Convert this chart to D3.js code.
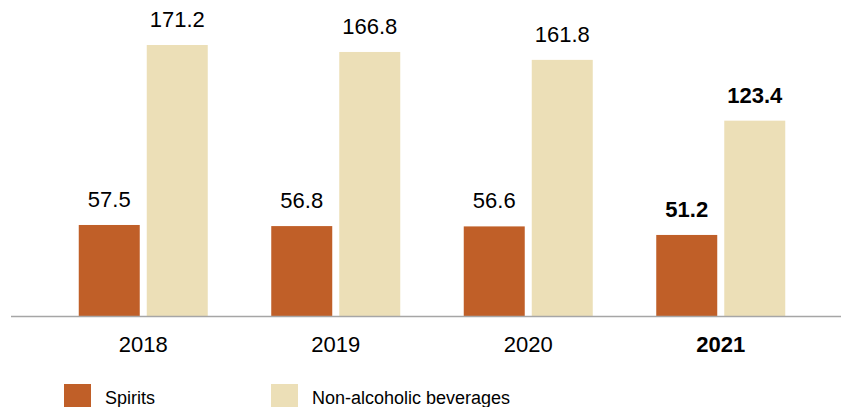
<!DOCTYPE html>
<html>
<head>
<meta charset="utf-8">
<script src="https://cdn.jsdelivr.net/npm/d3@7"></script>
<style>
  body { margin: 0; background: #fff; }
  svg { display: block; font-family: "Liberation Sans", Arial, sans-serif; }
</style>
</head>
<body>
<div id="chart"></div>
<script>
// chart data
const years = ["2018", "2019", "2020", "2021"];
const spirits = [57.5, 56.8, 56.6, 51.2];
const nonAlcoholic = [171.2, 166.8, 161.8, 123.4];
const seriesNames = ["Spirits", "Non-alcoholic beverages"];
const boldYear = "2021";

const width = 841, height = 407;
const baseline = 316;

const svg = d3.select("#chart").append("svg")
  .attr("width", width)
  .attr("height", height);

const colors = ["#c05f28", "#ecdfb7"];

const xScale = d3.scaleBand()
  .domain(years)
  .range([47, 817]);

const inner = d3.scaleBand()
  .domain([0, 1])
  .range([xScale.bandwidth() / 2 - 64.5, xScale.bandwidth() / 2 + 64.5])
  .paddingInner(0.103);

const yScale = d3.scaleLinear()
  .domain([0, 171.2])
  .range([baseline, 45]);

const rows = years.map((y, i) => ({ year: y, values: [spirits[i], nonAlcoholic[i]] }));

const groups = svg.selectAll(".group")
  .data(rows)
  .join("g")
  .attr("class", "group")
  .attr("transform", d => `translate(${xScale(d.year)},0)`);

groups.selectAll("rect")
  .data(d => d.values.map((v, k) => ({ v, k, year: d.year })))
  .join("rect")
  .attr("x", d => inner(d.k))
  .attr("width", inner.bandwidth())
  .attr("y", d => yScale(d.v))
  .attr("height", d => baseline - yScale(d.v))
  .attr("fill", d => colors[d.k]);

groups.selectAll("text.val")
  .data(d => d.values.map((v, k) => ({ v, k, year: d.year })))
  .join("text")
  .attr("class", "val")
  .attr("x", d => inner(d.k) + inner.bandwidth() / 2)
  .attr("y", d => yScale(d.v) - 18)
  .attr("text-anchor", "middle")
  .attr("font-size", 22)
  .attr("font-weight", d => d.year === boldYear ? "bold" : "normal")
  .attr("fill", "#000")
  .text(d => d.v.toFixed(1));

// x axis
svg.append("line")
  .attr("x1", 11).attr("x2", width)
  .attr("y1", baseline + 0.5).attr("y2", baseline + 0.5)
  .attr("stroke", "#a6a6a6")
  .attr("stroke-width", 1.5);

svg.selectAll("text.year")
  .data(years)
  .join("text")
  .attr("class", "year")
  .attr("x", d => xScale(d) + xScale.bandwidth() / 2)
  .attr("y", 352)
  .attr("text-anchor", "middle")
  .attr("font-size", 22)
  .attr("font-weight", d => d === boldYear ? "bold" : "normal")
  .attr("fill", "#000")
  .text(d => d);

// legend
const legendX = [64, 271];
const legend = svg.selectAll(".legend")
  .data(seriesNames)
  .join("g")
  .attr("class", "legend")
  .attr("transform", (d, i) => `translate(${legendX[i]},384)`);

legend.append("rect")
  .attr("width", 27)
  .attr("height", 27)
  .attr("fill", (d, i) => colors[i]);

legend.append("text")
  .attr("x", 41)
  .attr("y", 20)
  .attr("font-size", 18)
  .attr("fill", "#000")
  .text(d => d);
</script>
</body>
</html>
